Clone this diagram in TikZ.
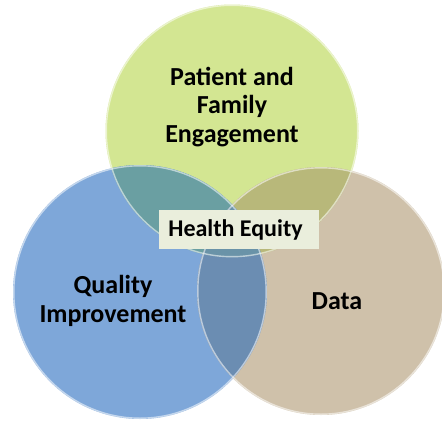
\documentclass[tikz,border=0pt]{standalone}
\usepackage{fontspec}
\setmainfont{Carlito}
\definecolor{cgreen}{HTML}{D3E692}
\definecolor{cblue}{HTML}{7EA7D9}
\definecolor{ctan}{HTML}{CFC1AA}
\definecolor{cgb}{HTML}{6A9FA2}
\definecolor{cgt}{HTML}{B8B87A}
\definecolor{cbt}{HTML}{6B8DB2}
\definecolor{call}{HTML}{6A93A8}
\definecolor{cbox}{HTML}{EAEEDC}
\tikzset{
  rim/.style={draw=white, draw opacity=0.55, line width=1.4pt},
  lbl/.style={align=center, font=\fontsize{26}{28.5}\selectfont\bfseries, text=black, inner sep=0pt},
  eqbox/.style={fill=cbox, minimum width=160pt, minimum height=39pt, inner sep=0pt},
  eqtext/.style={inner sep=0pt, font=\fontsize{24}{26}\selectfont\bfseries, text=black}
}
\begin{document}
\begin{tikzpicture}[x=1pt,y=-1pt]
\useasboundingbox (0,0) rectangle (442,423);
\clip (0,0) rectangle (442,423);
\fill[white] (0,0) rectangle (442,423);
\coordinate (gc) at (232,131);
\coordinate (bc) at (140,292);
\coordinate (tc) at (321,291);
\def\rg{126.5pt}
\def\rb{127pt}
\def\rt{124pt}
% base circles
\fill[cgreen] (gc) circle[radius=\rg];
\fill[cblue] (bc) circle[radius=\rb];
\fill[ctan] (tc) circle[radius=\rt];
% overlaps
\begin{scope}
  \clip (gc) circle[radius=\rg];
  \fill[cgb] (bc) circle[radius=\rb];
  \fill[cgt] (tc) circle[radius=\rt];
\end{scope}
\begin{scope}
  \clip (bc) circle[radius=\rb];
  \fill[cbt] (tc) circle[radius=\rt];
  \clip (gc) circle[radius=\rg];
  \fill[call] (tc) circle[radius=\rt];
\end{scope}
% rims
\draw[rim] (gc) circle[radius=\rg-0.8pt];
\draw[rim] (bc) circle[radius=\rb-0.8pt];
\draw[rim] (tc) circle[radius=\rt-0.8pt];
% labels
\node[lbl] (pfe) at (232,107) {Patient and\\Family\\Engagement};
\node[lbl] (qi) at (113,301) {Quality\\Improvement};
\node[lbl] (data) at (337,301) {Data};
\node[eqbox] (he) at (239,229.5) {};
\node[eqtext] (het) at (235.5,229.5) {Health Equity};
\end{tikzpicture}
\end{document}
